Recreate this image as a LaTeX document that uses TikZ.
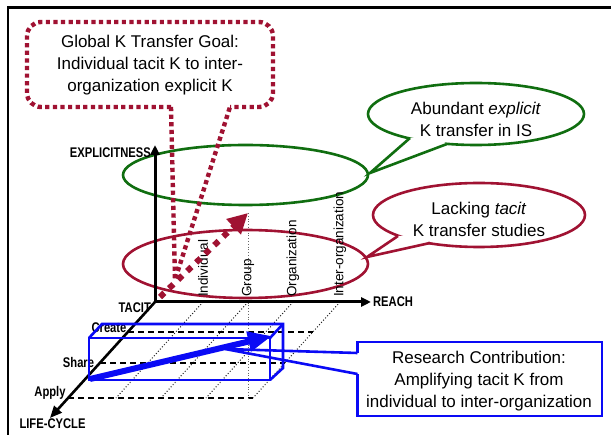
\documentclass[tikz,border=0pt]{standalone}
\usepackage{fontspec}
\setmainfont{Liberation Sans}
\usetikzlibrary{arrows.meta,calc}
\definecolor{kred}{RGB}{160,18,50}
\definecolor{kgreen}{RGB}{16,110,16}
\definecolor{kblue}{RGB}{10,10,245}
\begin{document}
\begin{tikzpicture}[x=1pt,y=-1pt,
  axis/.style={line width=3pt,-{Triangle[length=10pt,width=9pt]}},
  axlbl/.style={font=\fontsize{14}{15}\selectfont\bfseries,inner sep=0pt,xscale=0.8},
  catlbl/.style={font=\fontsize{13.5}{14}\selectfont,inner sep=0pt,rotate=90,anchor=west},
  gridline/.style={line width=1pt,dotted,black!85},
  levelline/.style={line width=1.6pt,dash pattern=on 6pt off 4pt},
  bigtext/.style={font=\fontsize{17}{22}\selectfont,align=center,inner sep=0pt},
  plane/.style={line width=2.6pt},
  reddots/.style={kred,line width=4.4pt,dash pattern=on 4.2pt off 3.4pt},
  cube/.style={kblue,line width=2.6pt}
]
\useasboundingbox (0,0) rectangle (611,435);
\fill[white] (0,0) rectangle (611,435);
% frame
\coordinate (F1) at (8,435);
\coordinate (F2) at (8,7.5);
\coordinate (F3) at (611,7.5);
\draw[line width=2.6pt] (F1) -- (F2) -- (F3);

% axes coordinates
\coordinate (O) at (155,302);
\coordinate (Etop) at (155,145);
\coordinate (Rend) at (371,302);
\coordinate (Lend) at (50,418);
\coordinate (Ci) at (203,302);
\coordinate (Cg) at (248,302);
\coordinate (Co) at (293,302);
\coordinate (Cx) at (340,302);

% grid diagonals
\foreach \c in {Ci,Cg,Co,Cx}{
  \draw[gridline] (\c) -- ($(\c)+(-87,96)$);
}
% level lines
\coordinate (Cr1) at ($(O)+(-27,30)$);
\coordinate (Cr2) at ($(Cx)+(-27,30)$);
\coordinate (Sh1) at ($(O)+(-55,61)$);
\coordinate (Sh2) at ($(Cx)+(-55,61)$);
\coordinate (Ap1) at ($(O)+(-87,96)$);
\coordinate (Ap2) at ($(Cx)+(-87,96)$);
\draw[levelline] (Cr1) -- (Cr2);
\draw[levelline] (Sh1) -- (Sh2);
\draw[levelline] (Ap1) -- (Ap2);

% group vertical guide
\coordinate (Atip) at (248,213);
\coordinate (Gbot) at (248,398);
\draw[line width=0.8pt,dotted,black!60] (Atip) -- (Gbot);

% planes
\draw[kgreen,plane] (245.5,175) ellipse [x radius=122.5pt, y radius=30pt];
\draw[kred,plane] (245.5,264) ellipse [x radius=122.5pt, y radius=34pt];

% axes
\draw[axis] (O) -- (Etop);
\draw[axis] (O) -- (Rend);
\draw[line width=2.6pt,-{Triangle[length=12pt,width=10pt]}] (O) -- (Lend);

% axis labels
\node[axlbl,anchor=east] (lexp) at (151,153) {EXPLICITNESS};
\node[axlbl,anchor=east] (ltac) at (151,308) {TACIT};
\node[axlbl,anchor=west] (lrea) at (373,302) {REACH};
\node[axlbl] (llif) at (52.5,424) {LIFE-CYCLE};
\node[axlbl] (lcre) at (109,328) {Create};
\node[axlbl] (lsha) at (78.5,362) {Share};
\node[axlbl] (lapp) at (50,393) {Apply};

% category labels
\node[catlbl] (ni) at (203,297) {Individual};
\node[catlbl] (ng) at (248,297) {Group};
\node[catlbl] (no) at (293,297) {Organization};
\node[catlbl] (nx) at (340,297) {Inter-organization};

% global goal callout (dotted)
\coordinate (Gp1) at (171,107);
\coordinate (Gp2) at (230,107);
\coordinate (Gtip) at (175,280);
\draw[reddots,rounded corners=14pt] (Gp1) -- (27,107) -- (27,22) -- (273,22) -- (273,107) -- (Gp2);
\draw[reddots] (Gp1) -- (Gtip) -- (Gp2);
\node[bigtext] (goal) at (150,65.5) {Global K Transfer Goal:\\Individual tacit K to inter-\\organization explicit K};

% red dotted arrow
\coordinate (Astart) at (160,297);
\draw[kred,line width=6pt,dash pattern=on 6pt off 6.5pt,
  -{Triangle[length=20pt,width=20pt]}] (Astart) -- (Atip);

% green callout
\coordinate (gb1) at (410,138);
\coordinate (gb2) at (447,144);
\coordinate (gtip) at (370,173);
\coordinate (gin) at (435,136);
\draw[kgreen,plane,fill=white] (476,114) ellipse [x radius=108pt, y radius=31pt];
\fill[white] (gb1) -- (gtip) -- (gb2) -- (gin) -- cycle;
\draw[kgreen,plane,line join=miter] (gb1) -- (gtip) -- (gb2);
\node[bigtext] (gtext) at (476,119) {Abundant \textit{explicit}\\K transfer in IS};

% red callout
\coordinate (rb1) at (398,236);
\coordinate (rb2) at (430,243);
\coordinate (rtip) at (367,257);
\coordinate (rin) at (421,236);
\draw[kred,plane,fill=white] (479,215) ellipse [x radius=106pt, y radius=32pt];
\fill[white] (rb1) -- (rtip) -- (rb2) -- (rin) -- cycle;
\draw[kred,plane,line join=miter] (rb1) -- (rtip) -- (rb2);
\node[bigtext] (rtext) at (479,219) {Lacking \textit{tacit}\\K transfer studies};

% blue cuboid
\coordinate (f1) at (89,338);
\coordinate (f2) at (270,338);
\coordinate (f3) at (270,380);
\coordinate (f4) at (89,380);
\coordinate (b1) at (102,324);
\coordinate (b2) at (283,324);
\coordinate (b3) at (283,368);
\draw[cube] (f1) -- (f2) -- (f3) -- (f4) -- cycle;
\draw[cube] (f1) -- (b1) -- (b2) -- (b3) -- (f3);
\draw[cube] (f2) -- (b2);
\coordinate (Bs) at (90,379);
\coordinate (Be) at (272,336);
\draw[kblue,line width=6pt,-{Triangle[length=24pt,width=19pt]}] (Bs) -- (Be);

% blue callout
\coordinate (cp1) at (357.5,353);
\coordinate (cp2) at (357.5,374);
\coordinate (ctip) at (225,349);
\draw[kblue,line width=2.6pt,line join=miter] (cp1) -- (357.5,342) -- (602,342) -- (602,416) -- (357.5,416) -- (cp2);
\draw[kblue,line width=2.6pt] (cp1) -- (ctip) -- (cp2);
\node[bigtext] (btext) at (479,381.5) {Research Contribution:\\Amplifying tacit K from\\individual to inter-organization};
\end{tikzpicture}
\end{document}
